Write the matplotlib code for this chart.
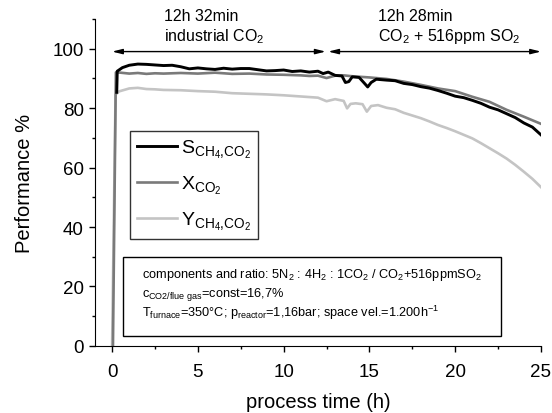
import numpy as np
import matplotlib
matplotlib.use('Agg')
import matplotlib.pyplot as plt
from matplotlib.patches import Rectangle
from matplotlib.lines import Line2D

plt.rcParams['font.family'] = ['Liberation Sans', 'DejaVu Sans']
plt.rcParams['mathtext.default'] = 'regular'

# S_CH4,CO2 (black)
t_s = [0.27, 0.3, 0.6, 1.0, 1.5, 2.0, 2.5, 3.0, 3.5, 4.0, 4.5, 5.0, 5.5, 6.0, 6.5,
       7.0, 7.5, 8.0, 8.5, 9.0, 9.5, 10.0, 10.5, 11.0, 11.5, 12.0, 12.3, 12.6, 13.0,
       13.4, 13.6, 13.8, 14.0, 14.4, 14.7, 14.9, 15.1, 15.4, 16.0, 16.5, 17.0, 17.5,
       18.0, 18.5, 19.0, 19.5, 20.0, 20.5, 21.0, 21.5, 22.0, 22.5, 23.0, 23.5, 24.0,
       24.5, 25.0]
s_vals = [85.3, 92.4, 93.6, 94.4, 94.8, 94.7, 94.5, 94.3, 94.4, 93.9, 93.2, 93.5, 93.2,
          93.0, 93.4, 93.1, 93.3, 93.3, 92.9, 92.5, 92.6, 92.8, 92.3, 92.5, 92.1, 92.4,
          91.6, 92.1, 91.0, 90.8, 88.6, 88.9, 90.5, 90.3, 88.4, 87.1, 88.6, 89.7, 89.4,
          89.2, 88.3, 87.9, 87.2, 86.7, 85.9, 85.0, 84.0, 83.5, 82.6, 81.6, 80.3, 79.4,
          78.1, 76.8, 75.0, 73.6, 71.0]

# X_CO2 (grey)
t_x = [0.05, 0.22, 0.5, 1.0, 1.5, 2.0, 2.5, 3.0, 4.0, 5.0, 6.0, 7.0, 8.0, 9.0, 10.0,
       11.0, 11.5, 12.0, 12.5, 13.0, 13.5, 14.0, 15.0, 16.0, 17.0, 18.0, 19.0, 20.0,
       21.0, 22.0, 23.0, 24.0, 25.0]
x_vals = [0, 92.0, 91.9, 91.6, 91.8, 91.5, 91.7, 91.6, 91.8, 91.6, 91.9, 91.5, 91.6,
          91.3, 91.2, 91.0, 90.8, 90.9, 90.1, 90.9, 91.0, 90.7, 90.3, 89.8, 88.9, 87.8,
          86.6, 85.7, 83.8, 82.1, 79.4, 77.1, 74.7]

# Y_CH4,CO2 (light grey)
t_y = [0.0, 0.2, 0.4, 1.0, 1.5, 2.0, 2.5, 3.0, 4.0, 5.0, 6.0, 7.0, 8.0, 9.0, 10.0,
       11.0, 12.0, 12.5, 13.0, 13.5, 13.7, 13.9, 14.2, 14.6, 14.85, 15.1, 15.5, 16.0,
       16.5, 17.0, 17.5, 18.0, 18.5, 19.0, 19.5, 20.0, 20.5, 21.0, 21.5, 22.0, 22.5,
       23.0, 23.5, 24.0, 24.5, 25.0]
y_vals = [0, 84.5, 85.6, 86.6, 86.8, 86.4, 86.3, 86.1, 86.0, 85.7, 85.5, 85.0, 84.8,
          84.6, 84.3, 83.9, 83.5, 82.3, 83.0, 82.4, 79.9, 81.4, 81.6, 81.3, 78.8, 80.7,
          81.0, 80.1, 79.6, 78.4, 77.5, 76.6, 75.5, 74.3, 73.3, 72.2, 71.0, 69.8, 68.2,
          66.5, 64.8, 63.0, 60.9, 58.6, 56.2, 53.4]

fig = plt.figure(figsize=(5.52, 4.14), dpi=100)
ax = fig.add_axes([0.172, 0.162, 0.808, 0.790])

ax.plot(t_y, y_vals, color='#c4c4c4', lw=1.9)
ax.plot(t_x, x_vals, color='#7a7a7a', lw=1.9)
ax.plot(t_s, s_vals, color='black', lw=2.1)

ax.set_xlim(-1, 25)
ax.set_ylim(0, 110)
ax.set_xticks([0, 5, 10, 15, 20, 25])
ax.set_xticks(np.arange(0, 25.1, 2.5), minor=True)
ax.set_yticks([0, 20, 40, 60, 80, 100])
ax.set_yticks(np.arange(0, 111, 10), minor=True)
ax.spines['top'].set_visible(False)
ax.spines['right'].set_visible(False)
ax.tick_params(which='major', length=4.5, width=1, labelsize=13.5)
ax.tick_params(axis='x', which='major', pad=7.5)
ax.tick_params(axis='y', which='major', pad=3.5)
ax.tick_params(which='minor', length=2.5, width=1)
ax.set_xlabel('process time (h)', fontsize=14.5, labelpad=9)
ax.set_ylabel('Performance %', fontsize=14.5, labelpad=13)

# arrows marking the two phases
ax.annotate('', xy=(0, 99), xytext=(12.45, 99),
            arrowprops=dict(arrowstyle='<|-|>,head_length=0.6,head_width=0.15',
                            color='black', lw=1, shrinkA=0, shrinkB=0))
ax.annotate('', xy=(12.6, 99), xytext=(25, 99), annotation_clip=False,
            arrowprops=dict(arrowstyle='<|-|>,head_length=0.6,head_width=0.15',
                            color='black', lw=1, shrinkA=0, shrinkB=0))
ax.text(3.0, 109.5, '12h 32min', fontsize=11.5, va='baseline', clip_on=False)
ax.text(3.0, 102.8, 'industrial CO$_2$', fontsize=11.5, va='baseline', clip_on=False)
ax.text(15.5, 109.5, '12h 28min', fontsize=11.5, va='baseline', clip_on=False)
ax.text(15.5, 102.8, 'CO$_2$ + 516ppm SO$_2$', fontsize=11.5, va='baseline', clip_on=False)

# legend
handles = [Line2D([], [], color='black', lw=2.1),
           Line2D([], [], color='#7a7a7a', lw=1.9),
           Line2D([], [], color='#c4c4c4', lw=1.9)]
labels = ['S$_{CH_4{,}CO_2}$', 'X$_{CO_2}$', 'Y$_{CH_4{,}CO_2}$']
leg = ax.legend(handles, labels, loc='upper left', bbox_to_anchor=(0.078, 0.657),
                fontsize=14, frameon=True, fancybox=False, edgecolor='black',
                handlelength=2.1, handletextpad=0.2, labelspacing=0.72,
                borderpad=0.35, borderaxespad=0)
leg.get_frame().set_linewidth(1)

# info box
ax.add_patch(Rectangle((0.062, 0.031), 0.848, 0.241, transform=ax.transAxes,
                       fill=False, edgecolor='black', lw=1))
ax.text(0.105, 0.220, 'components and ratio: 5N$_2$ : 4H$_2$ : 1CO$_2$ / CO$_2$+516ppmSO$_2$',
        transform=ax.transAxes, fontsize=9.2, va='center')
ax.text(0.105, 0.159, 'c$_{CO2/flue\\ gas}$=const=16,7%',
        transform=ax.transAxes, fontsize=9.2, va='center')
ax.text(0.105, 0.104, 'T$_{furnace}$=350°C; p$_{reactor}$=1,16bar; space vel.=1.200h$^{-1}$',
        transform=ax.transAxes, fontsize=9.2, va='center')

fig.savefig('out.png', dpi=100)
